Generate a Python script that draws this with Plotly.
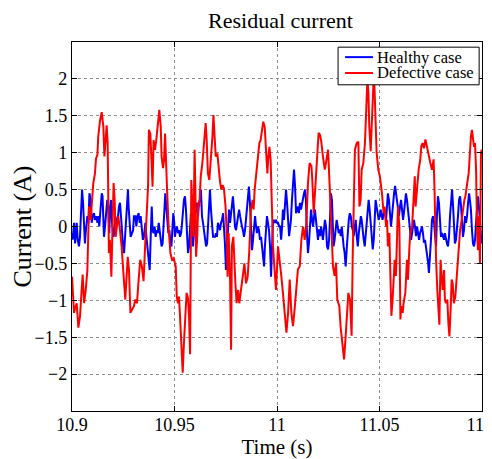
import plotly.graph_objects as go

# time offsets in milliseconds from t0 = 10.9 s, currents in A
t0 = 10.9

healthy_ms = [
    0.0, 0.3, 1.0, 1.5, 2.0, 2.3, 2.8, 3.4, 3.9, 4.4, 4.9, 5.4, 5.9, 6.3, 6.8, 7.5, 8.0, 8.5, 9.1, 9.6,
    10.1, 10.7, 11.2, 11.7, 12.4, 12.8, 13.3, 14.0, 14.5, 14.9, 15.3, 15.6, 16.1, 16.6, 17.2, 17.7, 18.2, 18.5, 19.0, 19.5,
    20.2, 20.7, 21.1, 21.8, 22.3, 22.9, 23.4, 23.9, 24.4, 24.9, 25.4, 25.9, 26.3, 26.8, 27.3, 27.6, 28.1, 28.6, 29.3, 29.8,
    30.2, 30.9, 31.4, 31.9, 32.5, 33.0, 33.5, 34.1, 34.6, 35.1, 35.8, 36.3, 36.7, 37.4, 37.9, 38.4, 38.9, 39.3, 39.8,
    40.3, 40.8, 41.3, 41.8, 42.3, 42.8, 43.3, 43.7, 44.2, 44.7, 45.2, 45.5, 46.0, 46.5, 47.0, 47.5, 48.0, 48.5, 49.0, 49.4, 49.9,
    50.2, 50.7, 51.2, 51.7, 52.2, 52.7, 53.2, 53.7, 54.1, 54.6, 55.1, 55.6, 56.1, 56.6, 57.1, 57.6, 58.0, 58.5, 59.0, 59.5,
    60.0, 60.5, 61.0, 61.5, 61.9, 62.4, 62.9, 63.4, 63.9, 64.4, 64.9, 65.4, 65.9, 66.3, 66.8, 67.3, 67.8, 68.3, 68.8, 69.3, 69.8,
    70.2, 70.7, 71.2, 71.7, 72.2, 72.7, 73.2, 73.7, 74.1, 74.6, 75.1, 75.6, 76.1, 76.6, 77.1, 77.6, 78.0, 78.5, 79.0, 79.5,
    80.0, 80.5, 81.0, 81.5, 82.0, 82.4, 82.9, 83.4, 83.9, 84.4, 84.9, 85.4, 85.9, 86.3, 86.8, 87.3, 87.8, 88.3, 88.8, 89.3, 89.8,
    90.2, 90.7, 91.2, 91.7, 92.2, 92.7, 93.2, 93.7, 94.1, 94.6, 95.1, 95.6, 96.1, 96.6, 97.1, 97.6, 98.0, 98.5, 99.0, 99.5,
    100.0, 100.5, 101.1, 101.5, 102.0, 102.4, 102.9, 103.4, 103.9, 104.4, 104.9, 105.4, 105.9, 106.3, 106.8, 107.3, 107.8, 108.3, 108.8, 109.3, 109.8,
    110.2, 110.7, 111.2, 111.7, 112.2, 112.7, 113.2, 113.7, 114.1, 114.6, 115.1, 115.6, 116.1, 116.6, 117.1, 117.6, 118.1, 118.5, 119.0, 119.5,
    120.0, 120.5, 121.0, 121.5, 122.0, 122.4, 122.9, 123.4, 123.9, 124.4, 124.9, 125.4, 125.9, 126.3, 126.8, 127.2, 127.6, 128.1, 128.6, 129.1, 129.6,
    130.1, 130.6, 131.1, 131.6, 132.0, 132.5, 133.0, 133.5, 134.0, 134.5, 135.0, 135.5, 136.0, 136.5, 136.9, 137.4, 137.9, 138.4, 138.9, 139.4, 139.9,
    140.4, 140.9, 141.3, 141.8, 142.3, 142.8, 143.3, 143.8, 144.3, 144.7, 145.2, 145.7, 146.2, 146.7, 147.2, 147.6, 148.1, 148.6, 149.1, 149.6,
    150.1, 150.6, 151.1, 151.5, 152.0, 152.5, 153.2, 153.7, 154.1, 154.6, 155.1, 155.6, 156.1, 156.6, 157.1, 157.6, 158.0, 158.5, 159.0, 159.5,
    160.0, 160.5, 161.0, 161.5, 161.9, 162.4, 162.9, 163.4, 163.9, 164.4, 164.9, 165.4, 165.9, 166.3, 166.8, 167.3, 167.8, 168.3, 168.8, 169.3, 169.8,
    170.2, 170.7, 171.2, 171.7, 172.2, 172.7, 173.2, 173.7, 174.1, 174.6, 175.1, 175.6, 176.1, 176.6, 177.1, 177.6, 178.0, 178.5, 179.0, 179.5,
    180.0, 180.5, 181.0, 181.5, 181.9, 182.4, 182.9, 183.4, 183.9, 184.4, 184.9, 185.4, 185.9, 186.3, 186.8, 187.3, 187.8, 188.3, 188.8, 189.3, 189.8,
    190.2, 190.7, 191.2, 191.7, 192.2, 192.7, 193.2, 193.7, 194.1, 194.6, 195.1, 195.6, 196.1, 196.6, 197.1, 197.6, 198.0, 198.5, 199.0, 199.5, 199.8,
]
healthy_a = [
    -0.09, -0.18, 0.05, -0.23, -0.05, 0.05, -0.18, -0.27, -0.14, 0.14, 0.50, 0.32, -0.14, -0.23, -0.05, 0.14, 0.05, 0.45, 0.36, 0.05,
    0.14, 0.18, 0.09, 0.14, 0.05, 0.14, 0.0, 0.36, 0.45, 0.41, 0.14, -0.14, 0.0, 0.23, 0.36, 0.27, -0.09, 0.23, 0.36, 0.05,
    -0.14, -0.09, 0.14, 0.05, 0.09, 0.27, 0.32, 0.14, -0.09, -0.27, -0.36, -0.14, 0.14, 0.36, 0.50, 0.27, -0.05, -0.14, -0.09, -0.05,
    0.14, 0.14, 0.0, 0.14, 0.18, 0.05, 0.14, -0.09, -0.18, -0.14, 0.05, -0.14, -0.27, -0.41, -0.59, -0.14, 0.27, -0.05, -0.09,
    0.0, -0.14, -0.05, -0.09, 0.05, -0.05, -0.14, -0.27, -0.23, 0.05, 0.36, 0.45, 0.27, 0.05, -0.09, -0.05, -0.23, -0.27, 0.14, 0.18, 0.05,
    -0.14, -0.05, 0.0, -0.09, -0.05, -0.14, -0.09, 0.05, 0.23, 0.36, 0.41, 0.23, -0.09, -0.36, -0.27, -0.05, 0.18, -0.05, -0.27, -0.09,
    0.14, 0.27, 0.32, 0.14, 0.32, 0.36, 0.50, 0.14, 0.05, -0.09, -0.23, -0.27, -0.23, 0.05, 0.23, 0.50, 0.23, -0.05, -0.14, -0.14, -0.14,
    -0.09, -0.14, 0.05, 0.0, -0.05, 0.05, 0.09, 0.18, 0.05, -0.23, -0.59, -0.23, 0.05, 0.23, 0.05, 0.18, 0.36, 0.41, 0.23, 0.0,
    -0.05, 0.05, 0.18, 0.23, 0.14, 0.05, 0.0, -0.05, -0.14, -0.05, 0.14, 0.32, 0.50, 0.54, 0.32, -0.09, -0.32, -0.18, 0.05, 0.14, 0.0,
    -0.09, 0.0, -0.05, -0.18, -0.14, -0.27, -0.41, -0.54, -0.27, 0.05, 0.14, 0.05, -0.05, -0.27, -0.68, -0.27, 0.05, 0.09, 0.05, 0.09,
    0.05, 0.05, 0.0, 0.0, -0.18, -0.04, 0.23, 0.09, 0.32, 0.50, 0.32, 0.0, -0.13, -0.04, 0.09, 0.36, 0.55, 0.77, 0.55, 0.18, 0.23,
    0.27, 0.18, 0.32, 0.23, 0.32, 0.36, 0.45, 0.50, 0.36, -0.09, -0.36, -0.22, 0.09, 0.23, 0.09, 0.0, 0.14, 0.23, 0.09, -0.09,
    -0.18, -0.04, -0.13, 0.0, -0.09, -0.18, -0.04, 0.09, 0.0, -0.27, -0.31, -0.18, 0.14, 0.45, 0.36, -0.18, -0.27, -0.18, -0.04, 0.09, 0.0,
    -0.09, -0.04, -0.13, 0.0, -0.18, -0.27, -0.36, -0.54, -0.31, -0.09, 0.09, 0.18, 0.14, 0.0, -0.04, -0.13, 0.0, 0.09, -0.13, -0.27, -0.09,
    0.0, 0.14, 0.09, -0.09, -0.18, -0.27, -0.13, 0.09, 0.23, 0.36, 0.23, 0.0, -0.18, -0.31, -0.18, 0.14, 0.36, 0.27, 0.14, 0.09,
    0.14, 0.23, 0.14, 0.09, 0.18, 0.23, 0.09, 0.36, 0.45, 0.36, 0.18, 0.0, 0.14, 0.36, 0.45, 0.55, 0.45, 0.32, 0.18, 0.14,
    0.27, 0.36, 0.23, 0.09, 0.18, 0.32, 0.45, 0.36, 0.23, 0.09, -0.04, -0.18, -0.09, 0.0, 0.09, 0.0, -0.13, 0.0, -0.09, -0.18, -0.09,
    -0.04, 0.0, -0.09, -0.22, -0.18, -0.27, -0.40, -0.49, -0.63, -0.45, -0.18, 0.09, 0.14, 0.05, -0.13, -0.27, 0.14, 0.41, 0.32, 0.05,
    -0.14, -0.09, -0.14, -0.18, -0.09, -0.18, -0.23, -0.27, -0.14, 0.14, 0.36, 0.50, 0.27, -0.09, -0.23, -0.18, -0.05, 0.14, 0.36, 0.41, 0.27,
    0.05, -0.14, -0.05, 0.14, 0.05, 0.14, 0.32, 0.45, 0.36, 0.23, -0.05, -0.23, -0.27, -0.18, 0.05, 0.27, 0.41, 0.27, 0.05, -0.14, -0.23,
]

defective_ms = [
    0.0, 0.3, 1.0, 1.8, 2.3, 3.1, 3.9, 4.7, 5.2, 5.9, 6.7, 7.5, 8.0, 8.3, 9.1, 9.8, 10.4, 11.2, 11.7, 12.4,
    12.8, 13.7, 14.5, 15.3, 15.8, 16.4, 16.9, 17.4, 17.7, 18.0, 18.5, 19.2, 19.8, 20.3, 20.8, 21.3, 21.9, 22.6, 23.4, 24.2,
    25.2, 26.0, 27.2, 27.8, 28.5, 29.3, 30.2, 30.9, 31.7, 32.5, 33.3, 34.1, 34.9, 35.8, 36.3, 36.7, 37.1, 37.5, 38.2, 38.7,
    39.3, 39.8, 40.5, 41.1, 41.9, 42.6, 43.3, 43.7, 44.4, 44.9, 45.4, 45.9, 46.5, 47.2, 48.0, 48.8, 49.6,
    50.6, 51.1, 51.7, 52.2, 52.7, 53.3, 54.0, 54.6, 55.3, 55.9, 56.6, 57.1, 57.6, 57.9, 58.2, 58.7, 59.2, 59.8, 60.2, 60.5,
    61.1, 61.6, 62.1, 62.8, 63.6, 64.4, 65.2, 65.7, 66.3, 67.0, 67.6, 68.5, 69.0, 69.4, 70.1, 70.9, 71.5, 72.2, 72.8, 73.5,
    74.1, 74.9, 75.4, 75.9, 76.4, 77.1, 77.6, 78.0, 78.7, 79.2, 79.7, 80.3, 81.0, 81.6, 82.4, 83.3, 84.1, 84.9, 85.7, 86.5,
    87.3, 88.1, 88.6, 89.1, 89.8, 90.6, 91.4, 92.0, 92.7, 93.3, 94.0, 94.6, 95.3, 95.8, 96.3, 96.9, 97.6, 98.0, 98.7, 99.5,
    100.5, 101.3, 102.1, 102.9, 103.7, 104.6, 105.4, 106.2, 107.0, 107.8, 108.6, 109.4, 110.2, 111.1, 111.9, 112.7, 113.5, 114.3, 115.1, 115.9,
    116.8, 117.2, 117.9, 118.7, 119.7, 120.3, 121.0, 121.6, 122.4, 123.3, 124.1, 124.9, 125.7, 126.5, 127.3, 128.1, 128.8, 129.4, 130.4, 131.0,
    132.0, 132.7, 133.3, 134.0, 134.8, 135.6, 136.4, 136.9, 137.6, 138.0, 138.9, 139.7, 140.2, 140.8, 141.3, 142.1, 142.9, 143.4, 144.1, 144.6,
    145.0, 145.7, 146.2, 146.7, 147.2, 147.6, 148.1, 148.6, 149.4, 150.2, 151.2, 152.0, 152.5, 153.2, 153.7, 154.1, 154.8, 155.3, 155.8, 156.4,
    156.9, 157.4, 158.0, 158.5, 159.0, 159.7, 160.2, 160.6, 161.3, 161.8, 162.6, 163.4, 163.9, 164.6, 165.0, 165.9, 166.7, 167.2, 167.6, 168.3,
    169.1, 169.9, 170.4, 171.0, 171.7, 172.4, 173.2, 174.0, 174.8, 175.6, 176.4, 176.8, 177.1, 177.6, 178.2, 178.7, 179.2, 179.5, 179.8, 180.3,
    180.8, 181.5, 181.9, 182.4, 183.1, 183.6, 184.1, 184.7, 185.2, 185.7, 186.3, 187.0, 187.6, 188.4, 189.3, 190.1, 190.9, 191.4, 191.9, 192.5,
    193.0, 193.5, 194.1, 194.6, 195.1, 195.6, 196.1, 196.6, 197.1, 197.6, 198.0, 198.5, 199.0, 199.5, 199.8,
]
defective_a = [
    -0.68, -0.86, -1.17, -1.08, -1.04, -1.37, -1.22, -0.86, -0.65, -1.04, -0.86, -0.59, -0.05, 0.27, 0.09, 0.32, 0.59, 0.72, 0.92, 0.97,
    1.22, 1.44, 1.55, 1.35, 0.95, 1.17, 1.37, 1.13, 0.50, -0.36, -0.18, -0.68, 0.05, 0.59, 0.36, -0.14, 0.0, 0.14, -0.05, -0.27,
    -0.68, -0.99, -0.41, -0.59, -1.17, -1.13, -1.08, -0.99, -1.04, -0.72, -0.45, -0.54, -0.74, -0.18, 0.14, 0.36, 0.54, 1.31, 1.26, 0.95,
    0.54, 1.17, 1.04, 1.17, 1.40, 1.58, 1.35, 0.95, 0.79, 0.90, 1.26, 0.77, 0.41, -0.05, -0.36, -0.45, -0.43,
    -0.54, -0.95, -1.04, -0.95, -1.22, -1.58, -1.98, -1.58, -1.13, -0.90, -0.97, -1.22, -1.73, -0.18, 0.63, 0.27, -0.14, 1.04, 0.50, -0.41,
    -0.14, 0.32, 0.27, 0.68, 0.86, 1.13, 1.40, 1.17, 0.72, 0.63, 0.83, 1.22, 1.51, 1.26, 0.95, 0.99, 0.77, 0.61, 0.50, 0.56,
    0.52, 0.27, -0.05, -0.68, -0.09, -0.72, -1.67, -0.27, -0.14, -0.59, -0.77, -1.04, -0.86, -1.04, -0.86, -0.72, -0.50, -0.77, -0.68, -0.32,
    0.23, 0.36, 0.23, 0.50, 0.68, 0.95, 1.13, 1.17, 1.31, 1.42, 1.35, 0.99, 0.72, 0.95, 1.08, 0.90, 0.05, -0.23, -0.54, -0.86,
    -0.27, -0.45, -0.67, -0.90, -1.17, -1.44, -1.17, -0.72, -1.17, -1.35, -1.12, -0.81, -0.58, -0.54, -0.18, 0.0, -0.18, 0.05, 0.59, 0.86,
    0.82, 0.64, 0.18, 0.54, 1.13, 1.27, 1.24, 1.15, 0.95, 0.77, 0.90, 1.04, 0.54, 0.09, -0.54, -0.67, -0.49, -0.99, -1.08, -1.35,
    -1.57, -1.80, -1.57, -1.17, -0.90, -0.99, -1.48, -0.45, 0.54, 1.04, 1.13, 1.15, 0.27, 0.36, 0.77, 0.86, 1.13, 1.49, 1.99, 1.81,
    1.36, 1.02, 1.36, 1.85, 2.05, 1.85, 1.36, 1.00, 0.77, 0.68, 0.45, 0.18, 0.27, 0.0, 0.09, -0.27, -0.09, -0.72, -1.21, -0.99,
    -0.67, -0.45, -0.67, 0.0, 0.27, 0.0, -1.26, -1.08, -1.17, -1.03, -0.90, -0.45, -0.72, -0.27, -0.09, 0.0, 0.45, 0.68, 0.27, 0.54,
    0.77, 0.91, 1.09, 1.13, 1.06, 1.18, 1.06, 0.95, 0.86, 0.77, 0.91, 0.54, 0.05, -0.45, -0.86, -1.22, -1.33, -0.86, -0.45, -0.68,
    -0.86, -0.59, -0.99, -1.04, -0.99, -1.31, -1.49, -1.13, -0.72, -0.77, -1.04, -0.95, -0.68, -0.41, -0.05, 0.09, 0.32, 0.36, 0.41, 0.50,
    0.63, 0.72, 1.04, 1.22, 1.31, 1.17, 1.08, 1.13, 0.77, -0.05, -0.32, 0.14, -0.50, 0.99, 1.04,
]

series_names = ['Healthy case', 'Defective case']
series_colors = ['#0000ff', '#ff0000']

x_ticks = [10.9, 10.95, 11, 11.05, 11.1]
x_tick_text = ['10.9', '10.95', '11', '11.05', '11.1']
y_ticks = [-2, -1.5, -1, -0.5, 0, 0.5, 1, 1.5, 2]

serif = 'Liberation Serif'

fig = go.Figure()
fig.add_trace(go.Scatter(x=[t0 + m / 1000 for m in healthy_ms], y=healthy_a,
                         mode='lines', name=series_names[0], showlegend=False,
                         line=dict(color=series_colors[0], width=2)))
fig.add_trace(go.Scatter(x=[t0 + m / 1000 for m in defective_ms], y=defective_a,
                         mode='lines', name=series_names[1], showlegend=False,
                         line=dict(color=series_colors[1], width=2)))

axis_common = dict(showline=True, linecolor='black', linewidth=1.3, mirror='ticks',
                   ticks='inside', ticklen=5, tickcolor='black', tickwidth=1,
                   showgrid=True, gridcolor='#8c8c8c', griddash='dot', gridwidth=1,
                   zeroline=False, automargin=False, ticklabeloverflow='allow',
                   tickfont=dict(family=serif, size=18, color='black'))

# MATLAB-style boxed legend in the upper right corner of the axes
legend_box = dict(x0=0.649, x1=0.993, y0=0.884, y1=0.986)
legend_rows = [0.959, 0.916]
fig.add_shape(type='rect', xref='paper', yref='paper', **legend_box,
              fillcolor='white', line=dict(color='black', width=1), layer='above')
for name, color, yy in zip(series_names, series_colors, legend_rows):
    fig.add_shape(type='line', xref='paper', yref='paper', x0=0.666, x1=0.734, y0=yy, y1=yy,
                  line=dict(color=color, width=2), layer='above')
    fig.add_annotation(xref='paper', yref='paper', x=0.739, y=yy, xanchor='left', yanchor='middle',
                       text=name, showarrow=False,
                       font=dict(family=serif, size=16.5, color='black'))

# the page body adds an 8 px margin, so the figure is 8 px smaller than the window
fig.update_layout(
    template='none',
    width=484, height=451,
    paper_bgcolor='white', plot_bgcolor='white',
    margin=dict(l=64, r=10, t=34, b=48),
    font=dict(family=serif, color='black'),
    title=dict(text='Residual current', x=0.563, xanchor='center', y=0.972, yanchor='middle',
               font=dict(family=serif, size=22, color='black')),
    xaxis=dict(range=[10.9, 11.1], tickvals=x_ticks, ticktext=x_tick_text, ticklabelstandoff=-3,
               title=dict(text='Time (s)', standoff=0, font=dict(family=serif, size=21)),
               **axis_common),
    yaxis=dict(range=[-2.5, 2.5], tickvals=y_ticks,
               title=dict(text='Current (A)', standoff=1, font=dict(family=serif, size=26)),
               **axis_common),
    showlegend=False,
)

fig.write_html("out.html")
